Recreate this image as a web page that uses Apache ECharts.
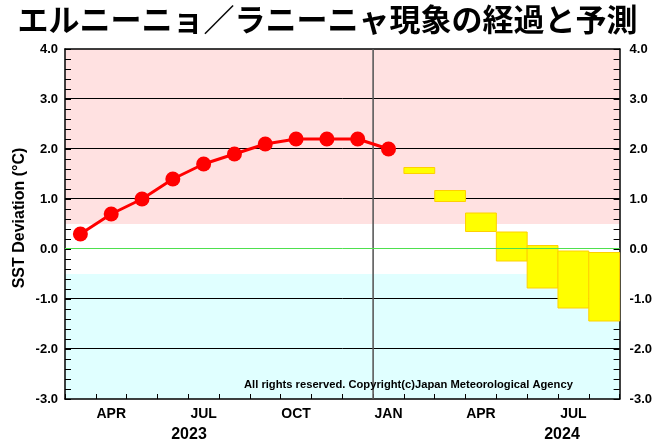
<!DOCTYPE html>
<html>
<head>
<meta charset="utf-8">
<script src="https://cdn.jsdelivr.net/npm/echarts@6/dist/echarts.min.js"></script>
<style>
html,body{margin:0;padding:0;background:#fff;}
#c{width:655px;height:445px;}
</style>
</head>
<body>
<div id="c"></div>
<script>
// ---- data ----
const months = ['2023-03','2023-04','2023-05','2023-06','2023-07','2023-08','2023-09','2023-10','2023-11','2023-12','2024-01','2024-02','2024-03','2024-04','2024-05','2024-06','2024-07','2024-08'];
const xTickLabels = ['', 'APR', '', '', 'JUL', '', '', 'OCT', '', '', 'JAN', '', '', 'APR', '', '', 'JUL', ''];
const observed = [0.3, 0.7, 1.0, 1.4, 1.7, 1.9, 2.1, 2.2, 2.2, 2.2, 2.0];
const forecastStartIndex = 11;
const forecastHigh = [1.63, 1.17, 0.72, 0.34, 0.07, -0.04, -0.07];
const forecastLow  = [1.51, 0.95, 0.35, -0.24, -0.78, -1.18, -1.44];
const bandLow  = [0.5, -3.0];
const bandHigh = [4.0, -0.5];
const bandColors = ['#ffe1e1', '#e0ffff'];
const gridValues = [-2, -1, 1, 2, 3];
const zeroLine = [0];
const dividerIndex = [10];
const yearLabels = ['2023', '2024'];
const titleText = 'エルニーニョ／ラニーニャ現象の経過と予測';
const yName = 'SST Deviation (°C)';
const copyright = 'All rights reserved. Copyright(c)Japan Meteorological Agency';

const chart = echarts.init(document.getElementById('c'), null, {renderer: 'canvas'});

const boxData = forecastHigh.map((h, i) => [forecastStartIndex + i, h, forecastLow[i]]);
const bandData = bandLow.map((l, i) => [0, l, bandHigh[i], i]);
const dividerData = dividerIndex.map(i => [i, 0]);
const gridData = gridValues.map(v => [0, v]);
const zeroData = zeroLine.map(v => [0, v]);

const fontLatin = 'Liberation Sans, Arial, Helvetica, sans-serif';

function hLine(color, width) {
  return (params, api) => {
    const cs = params.coordSys;
    const y = Math.round(api.coord([0, api.value(1)])[1]) - 0.5;
    return {
      type: 'line',
      shape: {x1: cs.x, y1: y, x2: cs.x + cs.width, y2: y},
      style: {stroke: color, lineWidth: width}
    };
  };
}

const option = {
  animation: false,
  backgroundColor: '#fff',
  grid: {left: 65, right: 32, top: 49, bottom: 46, show: false},
  xAxis: [{
    type: 'category',
    data: months,
    boundaryGap: true,
    position: 'bottom',
    axisLine: {show: true, onZero: false, lineStyle: {color: '#000', width: 1.5}},
    axisTick: {show: true, inside: true, length: 5, interval: 0, lineStyle: {color: '#000', width: 1}},
    axisLabel: {
      interval: 0, margin: 8,
      formatter: (v, i) => xTickLabels[i],
      color: '#000', fontWeight: 'bold', fontSize: 14, fontFamily: fontLatin
    },
    splitLine: {show: false}
  }, {
    type: 'category',
    data: months,
    position: 'top',
    axisLine: {show: true, onZero: false, lineStyle: {color: '#000', width: 1.5}},
    axisTick: {show: false},
    axisLabel: {show: false},
    splitLine: {show: false}
  }],
  yAxis: [{
    type: 'value',
    min: -3, max: 4, interval: 1,
    position: 'left',
    axisLine: {show: true, onZero: false, lineStyle: {color: '#000', width: 1.5}},
    axisTick: {show: true, inside: true, length: 6, lineStyle: {color: '#000'}},
    minorTick: {show: true, splitNumber: 5, length: 6, lineStyle: {color: '#000'}},
    axisLabel: {
      margin: 7, formatter: v => v.toFixed(1),
      color: '#000', fontWeight: 'bold', fontSize: 13, fontFamily: fontLatin
    },
    splitLine: {show: false}
  }, {
    type: 'value',
    min: -3, max: 4, interval: 1,
    position: 'right',
    axisLine: {show: true, onZero: false, lineStyle: {color: '#000', width: 1.5}},
    axisTick: {show: true, inside: true, length: 6, lineStyle: {color: '#000'}},
    minorTick: {show: true, splitNumber: 5, length: 6, lineStyle: {color: '#000'}},
    axisLabel: {
      margin: 10, formatter: v => v.toFixed(1),
      color: '#000', fontWeight: 'bold', fontSize: 13, fontFamily: fontLatin
    },
    splitLine: {show: false}
  }],
  series: [{
    type: 'custom',
    z: -1,
    silent: true,
    data: bandData,
    renderItem: (params, api) => {
      const cs = params.coordSys;
      const yTop = api.coord([0, api.value(2)])[1];
      const yBot = api.coord([0, api.value(1)])[1];
      return {
        type: 'rect',
        shape: {x: cs.x, y: yTop, width: cs.width, height: yBot - yTop},
        style: {fill: bandColors[api.value(3)]}
      };
    }
  }, {
    type: 'custom',
    z: 0.5,
    silent: true,
    data: gridData,
    renderItem: hLine('#000', 1)
  }, {
    type: 'custom',
    z: 1,
    silent: true,
    data: dividerData,
    renderItem: (params, api) => {
      const cs = params.coordSys;
      const p = api.coord([api.value(0), 0]);
      const w = api.size([1, 0])[0];
      const x = p[0] - w / 2;
      return {
        type: 'line',
        shape: {x1: x, y1: cs.y, x2: x, y2: cs.y + cs.height},
        style: {stroke: '#5a5a5a', lineWidth: 1.6}
      };
    }
  }, {
    type: 'custom',
    z: 2,
    data: boxData,
    renderItem: (params, api) => {
      const top = api.coord([api.value(0), api.value(1)]);
      const bot = api.coord([api.value(0), api.value(2)]);
      const w = api.size([1, 0])[0];
      return {
        type: 'rect',
        shape: {x: top[0] - w / 2, y: top[1], width: w, height: bot[1] - top[1]},
        style: {fill: '#ffff00', stroke: '#ffd000', lineWidth: 1}
      };
    }
  }, {
    type: 'custom',
    z: 2.5,
    silent: true,
    data: zeroData,
    renderItem: hLine('#4ee04e', 1)
  }, {
    type: 'line',
    z: 3,
    data: observed,
    symbol: 'circle',
    symbolSize: 15,
    itemStyle: {color: '#ff0000'},
    lineStyle: {color: '#ff0000', width: 3}
  }],
  graphic: [
    {type: 'text', left: 'center', top: 4, style: {text: titleText, font: 'bold 31px "Noto Sans CJK JP"', fill: '#000'}},
    {type: 'text', x: 20, y: 218, rotation: Math.PI / 2, style: {text: yName, font: 'bold 16px ' + fontLatin, fill: '#000', align: 'center', verticalAlign: 'middle'}},
    {type: 'text', x: 189, y: 435, style: {text: yearLabels[0], font: 'bold 16px ' + fontLatin, fill: '#000', align: 'center', verticalAlign: 'middle'}},
    {type: 'text', x: 562, y: 435, style: {text: yearLabels[1], font: 'bold 16px ' + fontLatin, fill: '#000', align: 'center', verticalAlign: 'middle'}},
    {type: 'text', x: 244, y: 385, z: 10, style: {text: copyright, font: 'bold 11.2px ' + fontLatin, fill: '#000', align: 'left', verticalAlign: 'middle'}}
  ]
};
chart.setOption(option);
</script>
</body>
</html>
